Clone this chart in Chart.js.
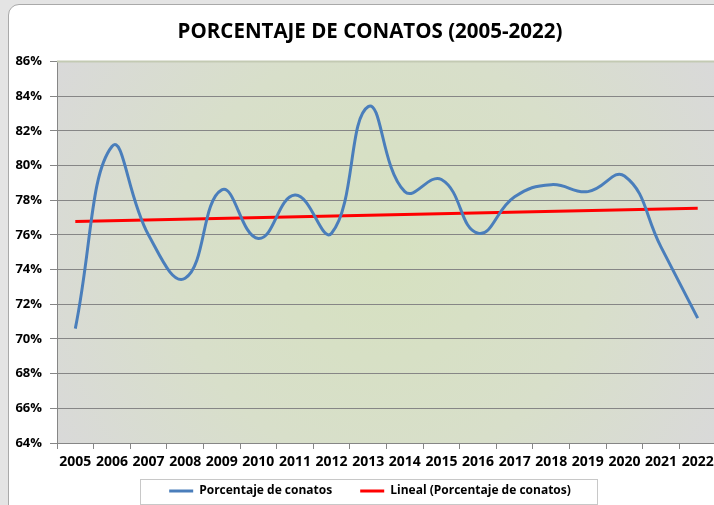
<!DOCTYPE html>
<html>
<head>
<meta charset="utf-8">
<script src="https://cdn.jsdelivr.net/npm/chart.js@4"></script>
<style>
  html, body { margin: 0; padding: 0; background: #e4e4e4; overflow: hidden; }
  .card {
    position: absolute; left: 8px; top: 4px; width: 760px; height: 520px;
    background: #fff; border: 1px solid #a9a9a9; border-radius: 11px;
  }
  #wrap { position: absolute; left: 0; top: 0; width: 740px; height: 505px; }
</style>
</head>
<body>
<div class="card"></div>
<div id="wrap"><canvas id="conatos" width="740" height="505"></canvas></div>
<script>
// data ////////
var years = ['2005','2006','2007','2008','2009','2010','2011','2012','2013',
             '2014','2015','2016','2017','2018','2019','2020','2021','2022'];
var porcentaje = [70.6, 81.1, 76.0, 73.5, 78.6, 75.8, 78.3, 76.1, 83.4,
                  78.5, 79.2, 76.1, 78.2, 78.9, 78.5, 79.4, 75.3, 71.2];
// trend line (Lineal) read at first and last year
var trendStart = 76.77;
var trendEnd = 77.54;
var yTicks = [64, 66, 68, 70, 72, 74, 76, 78, 80, 82, 84, 86];

var trend = years.map(function(y, i) {
  if (i === 0) return trendStart;
  if (i === years.length - 1) return trendEnd;
  return null;
});

var bold = function(size) {
  return { family: "'Open Sans', sans-serif", size: size, weight: 'bold' };
};

var legendPad = 28;

// plot background + top border + legend frame
var decor = {
  id: 'decor',
  afterLayout: function(chart) {
    // pull legend up under the axis labels
    var lg = chart.legend, d = lg.top - 457;
    lg.top -= d;
    lg.bottom -= d;
  },
  beforeDraw: function(chart) {
    var a = chart.chartArea, c = chart.ctx;
    var g = c.createRadialGradient(385, 255, 0, 385, 255, 380);
    g.addColorStop(0, '#d6e1c0');
    g.addColorStop(0.55, '#d8dfca');
    g.addColorStop(1, '#d9d9d9');
    c.save();
    c.fillStyle = g;
    c.fillRect(a.left, a.top, a.right - a.left, a.bottom - a.top);
    c.restore();
  },
  afterDraw: function(chart) {
    var a = chart.chartArea, c = chart.ctx;
    c.save();
    c.strokeStyle = '#c3cab3';
    c.lineWidth = 2;
    c.beginPath();
    c.moveTo(a.left, a.top);
    c.lineTo(a.right, a.top);
    c.stroke();
    var lg = chart.legend, boxes = lg.legendHitBoxes;
    if (boxes && boxes.length) {
      var l = Math.min.apply(null, boxes.map(function(b) { return b.left; }));
      var r = Math.max.apply(null, boxes.map(function(b) { return b.left + b.width; }));
      var mid = lg.top + legendPad + 7;
      c.strokeStyle = '#c8c8c8';
      c.lineWidth = 1;
      c.strokeRect(Math.round(l - 29) + 0.5, Math.round(mid - 13) + 0.5, Math.round(r - l + 55), 25);
    }
    c.restore();
  }
};

var ctx = document.getElementById('conatos').getContext('2d');

var myLineChart = new Chart(ctx, {
  type: 'line',
  data: {
    labels: years,
    datasets: [
      {
        label: 'Porcentaje de conatos',
        data: porcentaje,
        borderColor: '#4a7ebb',
        backgroundColor: '#4a7ebb',
        borderWidth: 3,
        pointRadius: 0,
        tension: 0.45
      },
      {
        label: 'Lineal (Porcentaje de conatos)',
        data: trend,
        spanGaps: true,
        borderColor: '#ff0000',
        backgroundColor: '#ff0000',
        borderWidth: 3,
        pointRadius: 0,
        tension: 0
      }
    ]
  },
  options: {
    responsive: false,
    animation: false,
    layout: { padding: { left: 0, right: 0, top: 0, bottom: -20 } },
    plugins: {
      title: {
        display: true,
        text: 'PORCENTAJE DE CONATOS (2005-2022)',
        color: '#000',
        font: bold(20.5),
        padding: { top: 20, bottom: 17 }
      },
      legend: {
        position: 'bottom',
        labels: {
          color: '#000',
          font: bold(12),
          usePointStyle: true,
          pointStyle: 'line',
          pointStyleWidth: 24,
          boxHeight: 12,
          padding: legendPad
        }
      },
      tooltip: { enabled: false }
    },
    scales: {
      x: {
        offset: true,
        grid: { display: true, offset: true, drawOnChartArea: false, color: '#868686', tickLength: 6 },
        border: { color: '#868686' },
        ticks: { color: '#000', font: bold(14), maxRotation: 0, autoSkip: false, padding: 5 },
        afterFit: function(s) { s.height = 32; }
      },
      y: {
        min: 64,
        max: 86,
        afterBuildTicks: function(s) { s.ticks = yTicks.map(function(v) { return { value: v }; }); },
        grid: { color: '#868686', tickLength: 7 },
        border: { color: '#868686' },
        ticks: { color: '#000', font: bold(13), padding: 8, callback: function(v) { return v + '%'; } },
        afterFit: function(s) { s.width = 57; }
      },
      // empty right side (plot runs past the window edge)
      yRight: {
        position: 'right',
        grid: { display: false },
        border: { display: false },
        ticks: { display: false },
        afterFit: function(s) { s.width = 24; }
      }
    }
  },
  plugins: [decor]
});
</script>
</body>
</html>
